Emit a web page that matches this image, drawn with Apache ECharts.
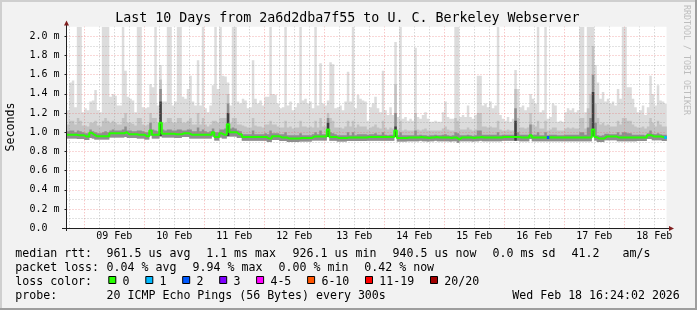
<!DOCTYPE html>
<html><head><meta charset="utf-8">
<script src="https://cdn.jsdelivr.net/npm/echarts@6/dist/echarts.min.js"></script>
<style>html,body{margin:0;padding:0;background:#f2f2f2}#c{width:697px;height:310px}</style>
</head><body><div id="c"></div>
<script>
// ---- time: hours since Feb 8 00:00; one value per hour starting Feb 8 17:00
const FIRST_HOUR = 17;
const X_MIN = 16.88, X_MAX = 256.88;
const Y_MAX = 2.1;

// light smoke top (max ping), ms
const hi = [
1.23,1.52,1.54,1.26,2.5,2.5,1.21,1.25,1.23,1.32,
1.33,1.44,1.23,1.21,2.5,2.5,2.5,1.37,1.40,1.38,
1.28,1.28,2.5,1.64,1.37,1.35,1.33,1.21,2.5,2.5,
1.26,1.25,1.26,1.50,1.47,2.5,1.28,1.70,1.32,1.32,
2.5,2.5,1.28,1.32,2.5,2.5,1.37,1.35,1.45,1.59,
1.32,1.28,1.75,1.28,2.5,1.25,1.21,1.28,1.49,2.5,
1.45,2.5,1.59,1.58,1.52,1.28,2.5,2.5,1.32,1.30,
1.35,1.33,1.25,1.26,1.75,1.35,1.30,1.33,1.28,1.37,
1.37,2.5,1.40,1.39,1.30,1.25,1.26,2.5,1.28,1.32,
1.23,1.26,1.30,2.5,1.33,1.35,1.30,1.32,1.25,2.5,
1.28,1.72,1.30,1.28,1.33,1.73,1.71,1.25,1.26,1.28,
1.23,1.32,1.63,1.32,2.5,1.25,1.39,1.35,1.33,1.32,
1.12,1.26,1.30,1.37,1.25,1.21,1.64,1.23,1.18,1.26,
1.18,1.94,1.16,2.5,1.14,1.16,1.12,1.14,1.12,1.88,
1.16,1.14,1.18,1.21,1.14,1.11,1.11,1.12,1.11,1.11,
1.21,1.32,1.16,1.14,1.14,2.5,2.5,1.16,1.18,1.16,
1.28,1.16,1.14,1.18,1.59,1.59,1.28,1.30,1.26,1.32,
1.25,1.28,2.5,1.18,1.14,1.12,1.16,1.11,1.14,1.65,
1.45,1.26,1.28,1.23,1.26,1.40,1.35,1.30,2.5,1.21,
1.23,2.5,1.14,1.16,1.30,1.28,1.11,1.12,1.11,1.21,
1.25,1.23,1.25,1.21,1.23,2.5,2.5,1.21,2.5,2.5,
2.5,1.70,1.52,1.35,1.42,1.32,1.35,1.30,1.32,1.28,
1.45,1.35,2.5,2.5,1.47,1.47,1.35,1.26,1.21,1.23,
1.28,1.18,1.26,1.59,1.40,1.28,1.49,1.33,1.32,1.30
];
// medium smoke top
const mid = [
1.08,1.12,1.12,1.08,1.15,1.12,1.07,1.07,1.06,1.10,
1.10,1.12,1.07,1.06,1.12,1.15,1.12,1.10,1.12,1.10,
1.08,1.08,1.15,1.20,1.10,1.10,1.09,1.07,1.15,1.15,
1.08,1.07,1.08,1.20,1.15,1.15,1.10,1.55,1.10,1.10,
1.15,1.15,1.10,1.10,1.15,1.15,1.10,1.10,1.12,1.15,
1.08,1.08,1.20,1.08,1.15,1.08,1.06,1.08,1.12,1.12,
1.10,1.15,1.15,1.15,1.40,1.10,1.15,1.15,1.08,1.08,
1.07,1.06,1.05,1.05,1.15,1.07,1.06,1.06,1.05,1.08,
1.08,1.12,1.08,1.08,1.06,1.05,1.05,1.12,1.05,1.06,
1.04,1.05,1.05,1.12,1.06,1.06,1.05,1.06,1.05,1.12,
1.05,1.15,1.06,1.06,1.20,1.15,1.12,1.05,1.05,1.05,
1.04,1.06,1.12,1.06,1.12,1.05,1.08,1.06,1.06,1.06,
1.03,1.05,1.06,1.08,1.05,1.04,1.12,1.05,1.03,1.05,
1.04,1.50,1.03,1.12,1.02,1.03,1.02,1.02,1.02,1.20,
1.03,1.02,1.03,1.04,1.02,1.02,1.02,1.02,1.02,1.02,
1.04,1.06,1.03,1.02,1.02,1.15,1.12,1.03,1.03,1.03,
1.05,1.03,1.02,1.03,1.20,1.20,1.06,1.06,1.05,1.06,
1.05,1.05,1.12,1.03,1.02,1.02,1.03,1.02,1.02,1.45,
1.15,1.05,1.05,1.04,1.05,1.20,1.08,1.06,1.12,1.04,
1.04,1.12,1.02,1.03,1.05,1.05,1.02,1.02,1.02,1.04,
1.05,1.04,1.05,1.04,1.04,1.15,1.15,1.04,1.25,1.40,
1.90,1.30,1.15,1.08,1.10,1.07,1.08,1.06,1.06,1.06,
1.12,1.08,1.15,1.15,1.12,1.12,1.08,1.06,1.05,1.05,
1.06,1.04,1.06,1.15,1.10,1.06,1.12,1.08,1.06,1.06
];
// dark smoke top (pings just above the median)
const dark = [
1.01,1.02,1.02,1.00,1.02,1.01,1.00,0.99,0.99,1.03,
1.01,1.00,0.99,0.99,1.00,1.01,1.00,1.02,1.03,1.02,
1.02,1.02,1.03,1.06,1.02,1.02,1.01,1.01,1.02,1.02,
1.01,1.00,1.00,1.10,1.03,1.02,1.01,1.45,1.03,1.02,
1.03,1.03,1.02,1.02,1.03,1.03,1.02,1.02,1.03,1.03,
1.01,1.01,1.05,1.01,1.03,1.01,1.00,1.01,1.04,1.00,
1.00,1.03,1.03,1.04,1.30,1.04,1.05,1.04,1.02,1.01,
0.98,0.98,0.98,0.98,1.02,0.98,0.98,0.98,0.98,0.99,
0.98,1.02,0.99,0.99,0.99,0.98,0.98,1.00,0.97,0.97,
0.97,0.97,0.97,0.99,0.97,0.97,0.97,0.97,0.98,1.00,
0.98,1.02,0.98,0.98,1.15,1.00,0.99,0.98,0.97,0.97,
0.97,0.97,1.00,0.97,1.00,0.97,0.98,0.98,0.98,0.98,
0.975,0.98,0.98,0.99,0.975,0.975,1.00,0.975,0.97,0.975,
0.975,1.20,0.97,1.00,0.97,0.97,0.97,0.97,0.97,1.02,
0.97,0.975,0.97,0.97,0.965,0.97,0.97,0.975,0.97,0.97,
0.975,0.98,0.97,0.965,0.97,1.00,0.99,0.97,0.97,0.97,
0.975,0.97,0.965,0.97,1.02,1.02,0.975,0.975,0.975,0.975,
0.975,0.975,1.00,0.97,0.975,0.975,0.975,0.975,0.975,1.25,
1.00,0.975,0.975,0.975,0.975,1.08,0.975,0.975,1.00,0.97,
0.97,1.00,0.97,0.975,0.975,0.975,0.97,0.97,0.97,0.975,
0.975,0.975,0.975,0.975,0.975,1.00,1.00,0.975,1.05,1.15,
1.60,1.10,0.97,0.965,0.97,0.985,0.985,0.98,0.98,0.98,
1.00,0.975,1.00,1.00,0.99,0.99,0.975,0.975,0.975,0.975,
0.975,0.97,0.99,1.02,0.985,0.98,0.99,0.98,0.975,0.975
];
// median rtt
const med = [
0.975,0.975,0.975,0.975,0.968,0.968,0.968,0.955,0.955,0.995,
0.975,0.960,0.960,0.960,0.960,0.960,0.960,0.990,0.990,0.990,
0.990,0.990,0.990,1.000,0.980,0.980,0.980,0.980,0.975,0.975,
0.975,0.960,0.960,1.020,0.975,0.975,0.975,1.100,0.985,0.985,
0.985,0.985,0.985,0.980,0.980,0.980,0.990,0.990,0.990,0.975,
0.975,0.975,0.975,0.975,0.975,0.975,0.975,0.975,1.000,0.950,
0.950,0.990,0.975,0.975,1.085,1.000,1.000,1.000,0.980,0.980,
0.950,0.950,0.950,0.950,0.950,0.950,0.950,0.950,0.950,0.950,
0.935,0.935,0.960,0.960,0.960,0.947,0.947,0.947,0.935,0.935,
0.935,0.935,0.935,0.940,0.940,0.940,0.940,0.940,0.955,0.955,
0.955,0.955,0.955,0.955,1.030,0.950,0.950,0.950,0.940,0.940,
0.940,0.940,0.947,0.947,0.947,0.947,0.947,0.947,0.947,0.947,
0.950,0.950,0.950,0.950,0.950,0.950,0.950,0.950,0.950,0.950,
0.950,1.020,0.940,0.940,0.940,0.940,0.945,0.945,0.945,0.945,
0.945,0.950,0.945,0.945,0.940,0.945,0.945,0.950,0.945,0.945,
0.945,0.945,0.945,0.940,0.945,0.945,0.926,0.945,0.945,0.945,
0.945,0.945,0.940,0.945,0.945,0.950,0.945,0.945,0.945,0.945,
0.945,0.945,0.945,0.945,0.950,0.950,0.950,0.950,0.950,0.950,
0.950,0.945,0.945,0.945,0.945,0.968,0.945,0.945,0.945,0.945,
0.945,0.945,0.945,0.948,0.945,0.945,0.945,0.945,0.945,0.945,
0.945,0.945,0.945,0.945,0.945,0.945,0.945,0.945,0.945,0.945,
1.030,0.950,0.935,0.935,0.935,0.955,0.955,0.955,0.955,0.955,
0.945,0.945,0.945,0.945,0.945,0.945,0.945,0.945,0.947,0.947,
0.947,0.947,0.968,0.968,0.955,0.955,0.955,0.955,0.947,0.947
];
// smoke bottom (min ping)
const lo = [
0.935,0.935,0.935,0.935,0.930,0.930,0.930,0.920,0.920,0.940,
0.935,0.925,0.925,0.925,0.925,0.925,0.925,0.945,0.945,0.945,
0.945,0.945,0.945,0.950,0.940,0.940,0.940,0.940,0.935,0.935,
0.935,0.925,0.925,0.965,0.935,0.935,0.935,0.960,0.945,0.945,
0.945,0.945,0.945,0.940,0.940,0.940,0.950,0.950,0.950,0.935,
0.935,0.935,0.935,0.935,0.935,0.935,0.935,0.935,0.955,0.915,
0.915,0.945,0.935,0.935,0.960,0.955,0.955,0.955,0.940,0.940,
0.912,0.912,0.912,0.912,0.912,0.912,0.912,0.912,0.912,0.912,
0.900,0.900,0.920,0.920,0.920,0.910,0.910,0.910,0.900,0.900,
0.900,0.900,0.900,0.905,0.905,0.905,0.905,0.905,0.915,0.915,
0.915,0.915,0.915,0.915,0.950,0.912,0.912,0.912,0.905,0.905,
0.905,0.905,0.910,0.910,0.910,0.910,0.910,0.910,0.910,0.910,
0.912,0.912,0.912,0.912,0.912,0.912,0.912,0.912,0.912,0.912,
0.912,0.950,0.905,0.905,0.905,0.905,0.908,0.908,0.908,0.908,
0.908,0.912,0.908,0.908,0.905,0.908,0.908,0.912,0.908,0.908,
0.908,0.908,0.908,0.905,0.908,0.908,0.890,0.908,0.908,0.908,
0.908,0.908,0.905,0.908,0.908,0.912,0.908,0.908,0.908,0.908,
0.908,0.908,0.908,0.908,0.912,0.912,0.912,0.912,0.912,0.912,
0.912,0.908,0.908,0.908,0.908,0.930,0.908,0.908,0.908,0.908,
0.908,0.908,0.908,0.908,0.908,0.908,0.908,0.908,0.908,0.908,
0.908,0.908,0.908,0.908,0.908,0.908,0.908,0.908,0.908,0.908,
0.960,0.915,0.900,0.900,0.900,0.918,0.918,0.918,0.918,0.918,
0.908,0.908,0.908,0.908,0.908,0.908,0.908,0.908,0.910,0.910,
0.910,0.910,0.930,0.930,0.918,0.918,0.918,0.918,0.910,0.910
];
// very dark core of the smoke at latency spikes
const spikeIndex = [37, 64, 104, 131, 179, 210];
const spikeTop   = [1.32, 1.20, 1.10, 1.06, 1.12, 1.42];
// hours with packet loss (index) and number of lost pings
const lossIndex = [192, 239];
const lossCount = [2, 1];

const dayLabels = ['09 Feb','10 Feb','11 Feb','12 Feb','13 Feb','14 Feb','15 Feb','16 Feb','17 Feb','18 Feb'];
const yLabelValues = [0,0.2,0.4,0.6,0.8,1.0,1.2,1.4,1.6,1.8,2.0];

const lossLegend = ['0','1','2','3','4-5','6-10','11-19','20/20'];
const lossColors = ['#26ff00','#00b8ff','#0059ff','#7e00ff','#ff00ff','#ff5500','#ff0000','#a10000'];

const statLines = [
  ['median rtt:', '961.5 us avg', '1.1 ms max', '926.1 us min', '940.5 us now', '0.0 ms sd', '41.2', 'am/s'],
  ['packet loss:', '0.04 % avg', '9.94 % max', '0.00 % min', '0.42 % now'],
];
const probeText = ['probe:', '20 ICMP Echo Pings (56 Bytes) every 300s', 'Wed Feb 18 16:24:02 2026'];
const titleText = 'Last 10 Days from 2a6d2dba7f55 to U. C. Berkeley Webserver';

// -------- derived structures
const N = med.length;
const hours = med.map((_, i) => FIRST_HOUR + i);
const MONO = '"DejaVu Sans Mono", monospace';

function stepPoly(api, tops, bottoms) {
  const pts = [];
  for (let i = 0; i < N; i++) {
    const t = Math.min(tops[i], Y_MAX);
    pts.push(api.coord([hours[i], t]), api.coord([hours[i] + 1, t]));
  }
  for (let i = N - 1; i >= 0; i--) {
    pts.push(api.coord([hours[i] + 1, bottoms[i]]), api.coord([hours[i], bottoms[i]]));
  }
  return pts;
}
function renderSmoke(params, api) {
  const children = [
    {type: 'polygon', shape: {points: stepPoly(api, hi, lo)}, style: {fill: '#dcdcdc'}},
    {type: 'polygon', shape: {points: stepPoly(api, mid, lo)}, style: {fill: '#c2c2c2'}},
    {type: 'polygon', shape: {points: stepPoly(api, dark, lo)}, style: {fill: '#8e8e8e'}},
  ];
  spikeIndex.forEach((k, j) => {
    const a = api.coord([hours[k], lo[k]]), b = api.coord([hours[k] + 1, spikeTop[j]]);
    children.push({type: 'rect', shape: {x: a[0], y: b[1], width: b[0] - a[0], height: a[1] - b[1]}, style: {fill: '#404040'}});
  });
  return {type: 'group', children};
}
function lossBucket(n) { return n <= 3 ? n : n <= 5 ? 4 : n <= 10 ? 5 : n <= 19 ? 6 : 7; }
function renderLoss(params, api) {
  const k = api.value(0);
  const a = api.coord([hours[k], med[k]]), b = api.coord([hours[k] + 1, med[k]]);
  return {type: 'rect', shape: {x: a[0], y: a[1] - 1.5, width: b[0] - a[0], height: 3},
          style: {fill: lossColors[lossBucket(api.value(1))]}};
}

// grid lines (drawn above the smoke like rrdtool)
const RED = 'rgba(235,110,110,0.55)', GREY = 'rgba(150,150,150,0.55)';
const gridLines = [];
for (let h = 18; h <= 252; h += 6) gridLines.push({xAxis: h, lineStyle: {color: h % 24 === 0 ? RED : GREY}});
for (let k = 1; k <= 20; k++) gridLines.push({yAxis: k / 10, lineStyle: {color: k % 2 === 0 ? RED : GREY}});

const medLine = hours.map((h, i) => [h, med[i]]).concat([[hours[N - 1] + 1, med[N - 1]]]);

// ---- graphic: frame, axes with arrows, title, legend
const G = [];
G.push({type: 'rect', shape: {x: 0, y: 0, width: 697, height: 2}, style: {fill: '#cfcfcf'}, silent: true});
G.push({type: 'rect', shape: {x: 0, y: 0, width: 2, height: 310}, style: {fill: '#cfcfcf'}, silent: true});
G.push({type: 'rect', shape: {x: 0, y: 308, width: 697, height: 2}, style: {fill: '#9e9e9e'}, silent: true});
G.push({type: 'rect', shape: {x: 695, y: 0, width: 2, height: 310}, style: {fill: '#9e9e9e'}, silent: true});
G.push({type: 'line', shape: {x1: 66.5, y1: 231, x2: 66.5, y2: 24}, style: {stroke: '#1f1f1f', lineWidth: 1}, z: 20});
G.push({type: 'polygon', shape: {points: [[64, 25.5], [69, 25.5], [66.5, 20.5]]}, style: {fill: '#801f1f'}, z: 20});
G.push({type: 'line', shape: {x1: 62, y1: 228.5, x2: 669, y2: 228.5}, style: {stroke: '#1f1f1f', lineWidth: 1}, z: 20});
G.push({type: 'polygon', shape: {points: [[669, 226], [669, 231], [674, 228.5]]}, style: {fill: '#801f1f'}, z: 20});
G.push({type: 'text', x: 115.2, y: 18.6, style: {text: titleText, font: '13.3px ' + MONO, fill: '#000', verticalAlign: 'middle'}});
G.push({type: 'text', x: 10.5, y: 127, rotation: Math.PI / 2, style: {text: 'Seconds', font: '11.6px ' + MONO, fill: '#000', align: 'center', verticalAlign: 'middle'}});
G.push({type: 'text', x: 686, y: 60, rotation: -Math.PI / 2, style: {text: 'RRDTOOL / TOBI OETIKER', font: '8.3px ' + MONO, fill: '#bdbdbd', align: 'center', verticalAlign: 'middle'}});

const LINE_Y = [253.6, 267.8, 282.0, 296.2];
const line1X = [15.3, 106.6, 206.2, 292.6, 392.6, 492.6, 571.6, 622.6];
const line2X = [15.3, 106.6, 192.6, 278.6, 364.3];
const probeX = [15.3, 106.6, 512.3];
const boxX = [108.3, 145.3, 182.2, 219.2, 256.1, 307.1, 365.0, 430.0];
function txt(s, x, y) { return {type: 'text', x, y, style: {text: s, font: '11.6px ' + MONO, fill: '#000', verticalAlign: 'middle'}}; }
statLines[0].forEach((s, i) => G.push(txt(s, line1X[i], LINE_Y[0])));
statLines[1].forEach((s, i) => G.push(txt(s, line2X[i], LINE_Y[1])));
G.push(txt('loss color:', 15.3, LINE_Y[2]));
lossLegend.forEach((s, i) => {
  G.push({type: 'rect', shape: {x: boxX[i] + 0.5, y: 276.5, width: 7, height: 7}, style: {fill: lossColors[i], stroke: '#000', lineWidth: 1}});
  G.push(txt(s, boxX[i] + 14.3, LINE_Y[2]));
});
probeText.forEach((s, i) => G.push(txt(s, probeX[i], LINE_Y[3])));

const chart = echarts.init(document.getElementById('c'), null, {renderer: 'canvas'});
chart.setOption({
  animation: false,
  backgroundColor: '#f2f2f2',
  grid: {left: 66.5, right: 30.5, top: 26.7, bottom: 81.7, show: true, backgroundColor: '#ffffff', borderWidth: 0},
  xAxis: {
    type: 'value', min: X_MIN, max: X_MAX,
    axisLine: {show: false}, axisTick: {show: false}, splitLine: {show: false},
    axisLabel: {
      customValues: dayLabels.map((_, i) => 36 + 24 * i),
      formatter: v => dayLabels[Math.round((v - 36) / 24)] || '',
      margin: 3, color: '#000', fontFamily: '"DejaVu Sans Mono", monospace', fontSize: 10
    }
  },
  yAxis: {
    type: 'value', min: 0, max: Y_MAX,
    axisLine: {show: false}, splitLine: {show: false},
    axisTick: {show: true, customValues: yLabelValues, length: 2, lineStyle: {color: '#1f1f1f', width: 1}},
    axisLabel: {
      customValues: yLabelValues,
      formatter: v => v === 0 ? '0.0  ' : v.toFixed(1) + ' m',
      margin: 7, color: '#000', fontFamily: '"DejaVu Sans Mono", monospace', fontSize: 10
    }
  },
  graphic: G,
  series: [
    {type: 'custom', name: 'smoke', z: 2, clip: true, renderItem: renderSmoke, data: [[hours[0], 1]], silent: true},
    {type: 'line', name: 'median', z: 10, step: 'end', data: medLine, showSymbol: false, clip: true, silent: true,
     lineStyle: {color: '#26ff00', width: 2},
     markLine: {silent: true, symbol: ['none', 'none'], label: {show: false}, z: 5,
                lineStyle: {type: [1, 2], width: 1}, data: gridLines}},
    {type: 'custom', name: 'loss', z: 11, clip: true, renderItem: renderLoss,
     data: lossIndex.map((k, j) => [k, lossCount[j]]), silent: true}
  ]
});
</script></body></html>
